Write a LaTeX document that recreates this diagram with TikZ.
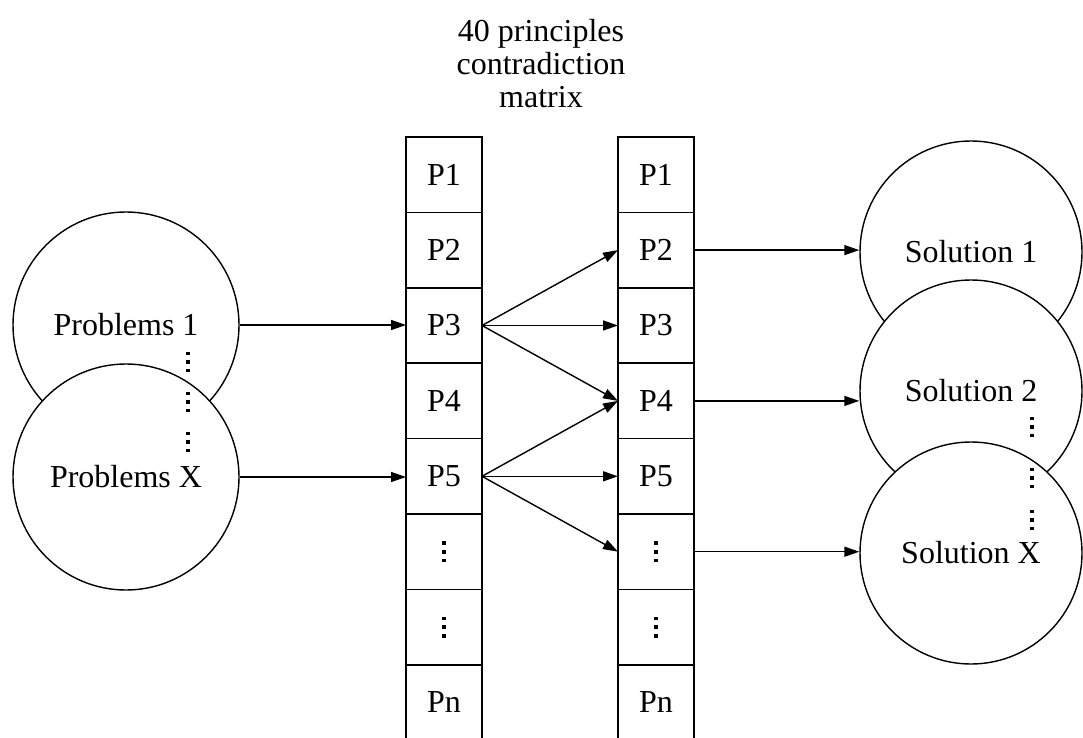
\documentclass[tikz,border=0pt]{standalone}
\usepackage{fontspec}
\setmainfont{Liberation Serif}
\usetikzlibrary{arrows.meta}
% three stacked square dots
\newcommand\tridot{\rule{3.6pt}{3.6pt}}
\newcommand\tridots{\vbox{\offinterlineskip\hbox{\tridot}\vskip5pt\hbox{\tridot}\vskip5pt\hbox{\tridot}}}
\begin{document}
\begin{tikzpicture}[x=1pt,y=-1pt,
  every node/.style={font=\fontsize{32}{33}\selectfont},
  cell/.style={draw, line width=1.6pt, minimum width=76pt, minimum height=75.4pt, inner sep=0pt, outer sep=0pt},
  bubble/.style={draw, circle, fill=white, line width=1.4pt, inner sep=0pt},
  link/.style={line width=1.4pt, -{Triangle[length=15pt,width=10pt]}},
  ellip/.style={inner sep=0pt}]
\useasboundingbox (0,0) rectangle (1083,738);

% heading
\node[align=center] (title) at (541,64) {40 principles\\contradiction\\matrix};

% the two columns of principles
\foreach \lab [count=\i] in {P1,P2,P3,P4,P5,\tridots,\tridots,Pn} {
  \node[cell] (L\i) at (444,{137+75.4*\i-37.7}) {\lab};
  \node[cell] (R\i) at (656,{137+75.4*\i-37.7}) {\lab};
}

% problems
\node[bubble, minimum size=226pt] (PB1) at (126,325) {Problems 1};
\node[bubble, minimum size=226pt] (PBX) at (126,477) {Problems X};
\foreach \y [count=\k] in {362,402,442}
  \node[ellip] (pd\k) at (188,\y) {\tridots};

% solutions
\node[bubble, minimum size=222pt] (S1) at (971,252) {Solution 1};
\node[bubble, minimum size=222pt] (S2) at (971,391) {Solution 2};
\node[bubble, minimum size=222pt] (SX) at (971,553) {Solution X};
\foreach \y [count=\k] in {427,478,520}
  \node[ellip] (sd\k) at (1032,\y) {\tridots};

% problems to principles
\draw[link] (PB1.east) -- (PB1.east -| L3.west);
\draw[link] (PBX.east) -- (PBX.east -| L5.west);

% principle combinations
\draw[link] (L3.east) -- (R2.west);
\draw[link] (L3.east) -- (R3.west);
\draw[link] (L3.east) -- (R4.west);
\draw[link] (L5.east) -- (R4.west);
\draw[link] (L5.east) -- (R5.west);
\draw[link] (L5.east) -- (R6.west);

% principles to solutions
\draw[link] (R2.east) -- (R2.east -| S1.west);
\draw[link] (R4.east) -- (R4.east -| S2.west);
\draw[link] (R6.east) -- (R6.east -| SX.west);
\end{tikzpicture}
\end{document}
